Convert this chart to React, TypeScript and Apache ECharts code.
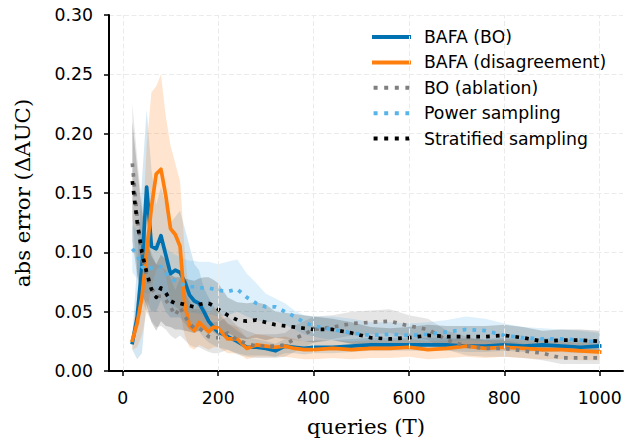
import React, { useEffect, useRef } from "react";
import * as echarts from "echarts";

// queries (T)
const queries = [20, 30, 40, 50, 60, 70, 80, 90, 100, 110, 120, 130, 140, 150, 160, 170, 180, 190, 200,
  220, 240, 260, 280, 300, 320, 340, 360, 380, 400,
  440, 480, 520, 560, 600, 640, 680, 720, 760, 800, 840, 880, 920, 960, 1000];

const xTicks = [0, 200, 400, 600, 800, 1000];

// BAFA (BO)
const bafaBoMean = [0.024, 0.045, 0.088, 0.155, 0.105, 0.103, 0.114, 0.098, 0.082, 0.085, 0.083, 0.075, 0.064, 0.059, 0.057, 0.050, 0.042, 0.037, 0.033,
  0.029, 0.025, 0.020, 0.020, 0.019, 0.017, 0.021, 0.020, 0.019, 0.020,
  0.020, 0.021, 0.022, 0.022, 0.022, 0.022, 0.022, 0.021, 0.021, 0.022, 0.021, 0.022, 0.021, 0.020, 0.021];
const bafaBoLower = [0.018, 0.010, 0.015, 0.060, 0.050, 0.050, 0.060, 0.050, 0.045, 0.045, 0.045, 0.040, 0.035, 0.035, 0.033, 0.028, 0.024, 0.022, 0.020,
  0.018, 0.015, 0.013, 0.013, 0.013, 0.012, 0.015, 0.015, 0.014, 0.015,
  0.015, 0.016, 0.017, 0.017, 0.017, 0.017, 0.017, 0.016, 0.016, 0.017, 0.016, 0.017, 0.016, 0.015, 0.016];
const bafaBoUpper = [0.030, 0.090, 0.160, 0.220, 0.170, 0.140, 0.155, 0.140, 0.125, 0.130, 0.135, 0.120, 0.105, 0.090, 0.085, 0.070, 0.062, 0.055, 0.048,
  0.040, 0.034, 0.028, 0.027, 0.025, 0.023, 0.027, 0.026, 0.025, 0.026,
  0.026, 0.027, 0.028, 0.028, 0.028, 0.028, 0.028, 0.027, 0.027, 0.028, 0.027, 0.028, 0.027, 0.026, 0.027];

// BAFA (disagreement)
const bafaDisMean = [0.026, 0.040, 0.062, 0.100, 0.138, 0.166, 0.170, 0.148, 0.120, 0.115, 0.105, 0.056, 0.038, 0.034, 0.041, 0.037, 0.033, 0.037, 0.036,
  0.027, 0.027, 0.019, 0.022, 0.021, 0.020, 0.021, 0.019, 0.018, 0.018,
  0.019, 0.018, 0.019, 0.019, 0.020, 0.018, 0.019, 0.021, 0.019, 0.020, 0.019, 0.018, 0.018, 0.017, 0.016];
const bafaDisLower = [0.018, 0.020, 0.030, 0.050, 0.070, 0.085, 0.090, 0.080, 0.060, 0.055, 0.050, 0.030, 0.020, 0.018, 0.022, 0.020, 0.018, 0.020, 0.020,
  0.015, 0.015, 0.010, 0.012, 0.012, 0.012, 0.012, 0.011, 0.010, 0.010,
  0.011, 0.010, 0.011, 0.011, 0.012, 0.010, 0.011, 0.012, 0.011, 0.012, 0.011, 0.010, 0.010, 0.009, 0.009];
const bafaDisUpper = [0.032, 0.060, 0.110, 0.190, 0.235, 0.240, 0.250, 0.215, 0.190, 0.175, 0.160, 0.100, 0.060, 0.052, 0.058, 0.055, 0.048, 0.054, 0.052,
  0.040, 0.037, 0.028, 0.031, 0.030, 0.028, 0.029, 0.027, 0.025, 0.025,
  0.026, 0.025, 0.026, 0.026, 0.027, 0.025, 0.026, 0.028, 0.026, 0.027, 0.026, 0.025, 0.025, 0.024, 0.023];

// BO (ablation)
const boAblMean = [0.175, 0.130, 0.098, 0.080, 0.070, 0.063, 0.063, 0.060, 0.054, 0.047, 0.054, 0.046, 0.040, 0.036, 0.036, 0.033, 0.029, 0.028, 0.028,
  0.032, 0.026, 0.023, 0.021, 0.021, 0.021, 0.022, 0.027, 0.031, 0.035,
  0.037, 0.040, 0.041, 0.042, 0.038, 0.035, 0.026, 0.021, 0.019, 0.019, 0.017, 0.015, 0.011, 0.011, 0.011];
const boAblLower = [0.130, 0.085, 0.060, 0.050, 0.042, 0.037, 0.038, 0.035, 0.030, 0.027, 0.030, 0.026, 0.022, 0.020, 0.020, 0.018, 0.016, 0.015, 0.015,
  0.018, 0.014, 0.012, 0.011, 0.011, 0.011, 0.012, 0.016, 0.020, 0.024,
  0.027, 0.030, 0.031, 0.032, 0.029, 0.026, 0.018, 0.013, 0.012, 0.012, 0.011, 0.009, 0.006, 0.006, 0.006];
const boAblUpper = [0.225, 0.180, 0.140, 0.115, 0.100, 0.090, 0.088, 0.085, 0.078, 0.068, 0.078, 0.066, 0.058, 0.052, 0.052, 0.048, 0.042, 0.041, 0.041,
  0.046, 0.038, 0.034, 0.031, 0.031, 0.031, 0.032, 0.038, 0.042, 0.046,
  0.047, 0.050, 0.051, 0.052, 0.047, 0.044, 0.034, 0.029, 0.026, 0.026, 0.023, 0.021, 0.016, 0.016, 0.016];

// Power sampling
const powerMean = [0.103, 0.098, 0.088, 0.085, 0.087, 0.088, 0.088, 0.083, 0.078, 0.076, 0.074, 0.072, 0.071, 0.071, 0.070, 0.070, 0.070, 0.069, 0.068,
  0.067, 0.069, 0.062, 0.057, 0.054, 0.054, 0.050, 0.046, 0.041, 0.038,
  0.035, 0.032, 0.030, 0.031, 0.030, 0.031, 0.033, 0.035, 0.034, 0.030, 0.028, 0.027, 0.027, 0.026, 0.024];
const powerLower = [0.083, 0.078, 0.068, 0.065, 0.067, 0.068, 0.068, 0.062, 0.056, 0.054, 0.052, 0.050, 0.049, 0.049, 0.048, 0.048, 0.048, 0.047, 0.046,
  0.047, 0.050, 0.046, 0.043, 0.041, 0.042, 0.039, 0.035, 0.031, 0.029,
  0.026, 0.023, 0.021, 0.022, 0.021, 0.022, 0.024, 0.026, 0.025, 0.022, 0.020, 0.019, 0.019, 0.018, 0.017];
const powerUpper = [0.123, 0.118, 0.108, 0.105, 0.107, 0.108, 0.108, 0.104, 0.100, 0.098, 0.096, 0.094, 0.093, 0.093, 0.092, 0.092, 0.092, 0.091, 0.090,
  0.092, 0.094, 0.082, 0.074, 0.065, 0.061, 0.057, 0.051, 0.047, 0.046,
  0.046, 0.044, 0.041, 0.041, 0.040, 0.041, 0.043, 0.046, 0.044, 0.040, 0.037, 0.036, 0.035, 0.034, 0.032];

// Stratified sampling
const stratMean = [0.160, 0.126, 0.100, 0.083, 0.069, 0.062, 0.070, 0.066, 0.059, 0.057, 0.057, 0.056, 0.055, 0.054, 0.056, 0.057, 0.057, 0.055, 0.052,
  0.047, 0.043, 0.042, 0.043, 0.041, 0.039, 0.038, 0.037, 0.036, 0.035,
  0.035, 0.032, 0.028, 0.027, 0.028, 0.030, 0.029, 0.029, 0.029, 0.030, 0.028, 0.025, 0.026, 0.026, 0.025];
const stratLower = [0.110, 0.081, 0.065, 0.055, 0.041, 0.034, 0.042, 0.038, 0.037, 0.035, 0.035, 0.034, 0.033, 0.032, 0.034, 0.035, 0.035, 0.033, 0.030,
  0.032, 0.028, 0.027, 0.028, 0.026, 0.028, 0.027, 0.026, 0.025, 0.024,
  0.026, 0.023, 0.019, 0.018, 0.019, 0.021, 0.020, 0.020, 0.020, 0.021, 0.019, 0.016, 0.017, 0.017, 0.016];
const stratUpper = [0.210, 0.171, 0.135, 0.111, 0.097, 0.090, 0.098, 0.094, 0.081, 0.079, 0.079, 0.078, 0.077, 0.076, 0.078, 0.079, 0.079, 0.077, 0.074,
  0.062, 0.058, 0.057, 0.058, 0.056, 0.050, 0.049, 0.048, 0.047, 0.046,
  0.044, 0.041, 0.037, 0.036, 0.037, 0.039, 0.038, 0.038, 0.038, 0.039, 0.037, 0.034, 0.035, 0.035, 0.034];

const seriesNames = ["BAFA (BO)", "BAFA (disagreement)", "BO (ablation)", "Power sampling", "Stratified sampling"];

const SOLID_ICON = "rect";
const DOTTED_ICON = "path://M0,0h4v4h-4z M10.6,0h4v4h-4z M21.2,0h4v4h-4z M31.8,0h4v4h-4z";

export default function App() {
  const ref = useRef<HTMLDivElement>(null);

  useEffect(() => {
    const chart = echarts.init(ref.current!, null, { renderer: "svg" });

    const defs = [
      { name: seriesNames[0], color: "#0072b2", band: "rgba(0,114,178,0.17)", mean: bafaBoMean, lo: bafaBoLower, hi: bafaBoUpper, dotted: false },
      { name: seriesNames[1], color: "#ff7f0e", band: "rgba(255,127,14,0.2)", mean: bafaDisMean, lo: bafaDisLower, hi: bafaDisUpper, dotted: false },
      { name: seriesNames[2], color: "#7f7f7f", band: "rgba(127,127,127,0.2)", mean: boAblMean, lo: boAblLower, hi: boAblUpper, dotted: true },
      { name: seriesNames[3], color: "#56b4e9", band: "rgba(86,180,233,0.2)", mean: powerMean, lo: powerLower, hi: powerUpper, dotted: true },
      { name: seriesNames[4], color: "#000000", band: "rgba(0,0,0,0.17)", mean: stratMean, lo: stratLower, hi: stratUpper, dotted: true },
    ];

    const series: any[] = [
      {
        type: "line",
        name: "grid-x",
        data: [],
        z: 0,
        silent: true,
        markLine: {
          silent: true,
          symbol: ["none", "none"],
          label: { show: false },
          lineStyle: { color: "#ebebeb", type: [5, 2.5], width: 1 },
          data: xTicks.map((v) => ({ xAxis: v })),
        },
      },
    ];

    defs.forEach((d, k) => {
      series.push({
        type: "custom",
        name: "band-" + k,
        coordinateSystem: "cartesian2d",
        silent: true,
        data: [[queries[0], d.mean[0]]],
        encode: { x: 0, y: 1 },
        renderItem: (_params: any, api: any) => {
          const pts: number[][] = [];
          for (let i = 0; i < queries.length; i++) pts.push(api.coord([queries[i], d.hi[i]]));
          for (let i = queries.length - 1; i >= 0; i--) pts.push(api.coord([queries[i], d.lo[i]]));
          return { type: "polygon", shape: { points: pts }, style: { fill: d.band, stroke: "none" } };
        },
      });
      series.push({
        type: "line",
        name: d.name,
        data: queries.map((x, i) => [x, d.mean[i]]),
        showSymbol: false,
        symbol: "none",
        itemStyle: { color: d.color },
        lineStyle: {
          color: d.color,
          width: 3.7,
          type: d.dotted ? [3.7, 6.1] : "solid",
          cap: d.dotted ? "butt" : "square",
          join: "round",
        },
      });
    });

    const option: any = {
      animation: false,
      backgroundColor: "#ffffff",
      grid: { left: 109, right: 12, top: 15, bottom: 71 },
      legend: {
        data: defs.map((d) => ({ name: d.name, icon: d.dotted ? DOTTED_ICON : SOLID_ICON })),
        orient: "vertical",
        left: 372,
        top: 27,
        padding: 0,
        itemWidth: 39,
        itemHeight: 4,
        itemGap: 5.4,
        selectedMode: false,
        itemStyle: { borderWidth: 0 },
        textStyle: { fontFamily: "DejaVu Sans", fontSize: 17.3, color: "#000", lineHeight: 20, padding: [0, 0, 0, 8] },
      },
      xAxis: {
        type: "value",
        min: -29,
        max: 1049,
        name: "queries (T)",
        nameLocation: "middle",
        nameGap: 45,
        nameTextStyle: { fontFamily: "DejaVu Serif", fontSize: 21.3, color: "#000" },
        axisLine: { onZero: false, lineStyle: { color: "#000", width: 2 } },
        axisTick: { customValues: xTicks, length: 5, lineStyle: { color: "#000", width: 1.5 } },
        axisLabel: {
          customValues: xTicks,
          margin: 18,
          fontFamily: "DejaVu Sans",
          fontSize: 17.3,
          color: "#000",
          formatter: (v: number) => String(v),
        },
        splitLine: { show: false },
      },
      yAxis: {
        type: "value",
        min: 0,
        max: 0.3,
        interval: 0.05,
        name: "abs error (ΔAUC)",
        nameLocation: "middle",
        nameGap: 76,
        nameTextStyle: { fontFamily: "DejaVu Serif", fontSize: 21.3, color: "#000" },
        axisLine: { show: true, onZero: false, lineStyle: { color: "#000", width: 2 } },
        axisTick: { show: true, length: 5, lineStyle: { color: "#000", width: 1.5 } },
        axisLabel: { margin: 16, fontFamily: "DejaVu Sans", fontSize: 17.3, color: "#000", formatter: (v: number) => v.toFixed(2) },
        splitLine: { show: true, lineStyle: { color: "#ebebeb", type: [5, 2.5], width: 1 } },
      },
      series,
    };

    chart.setOption(option);
    return () => chart.dispose();
  }, []);

  return (
    <div
      ref={ref}
      style={{ position: "fixed", left: 0, top: 0, width: 635, height: 442, background: "#fff" }}
    />
  );
}
